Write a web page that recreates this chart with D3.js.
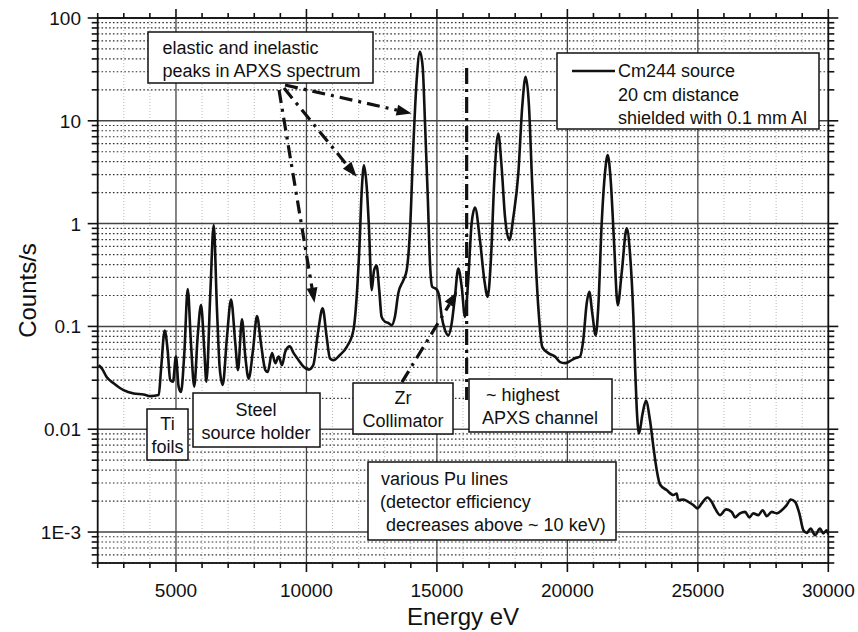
<!DOCTYPE html>
<html>
<head>
<meta charset="utf-8">
<script src="https://cdn.jsdelivr.net/npm/d3@7"></script>
<style>
  html, body { margin: 0; padding: 0; background: #fff; }
  svg { display: block; font-family: "Liberation Sans", Arial, sans-serif; }
</style>
</head>
<body>
<svg id="chart" width="858" height="632"></svg>
<script>
// ---------------- DATA ----------------
const energy = [2040,2160,2350,2610,2990,3380,3760,4020,4340,4425,4570,4680,4780,4885,5000,5100,5190,5320,5450,5575,5700,5830,5960,6085,6165,6316,6445,6572,6674,6790,6955,7110,7275,7375,7530,7657,7785,7952,8105,8258,8425,8515,8680,8810,8935,9065,9190,9360,9510,9700,9890,10090,10260,10455,10620,10775,10900,11030,11290,11540,11800,11925,12030,12120,12205,12310,12400,12500,12590,12690,12790,12880,13010,13140,13270,13390,13520,13710,13840,13970,14095,14225,14350,14455,14545,14650,14735,14820,14990,15090,15185,15310,15440,15565,15690,15820,15950,16075,16200,16330,16460,16650,16820,16945,17075,17200,17350,17480,17610,17775,17930,18120,18270,18400,18530,18635,18760,18885,19040,19270,19525,19720,19910,20100,20290,20485,20610,20740,20840,20955,21085,21185,21315,21440,21545,21660,21785,21930,22080,22275,22400,22527,22590,22655,22745,22885,23010,23165,23295,23425,23550,23805,24060,24190,24250,24445,24635,24825,24980,25150,25365,25530,25660,25850,26080,26300,26425,26615,26810,26975,27125,27320,27485,27640,27830,28025,28215,28405,28560,28725,28890,29045,29175,29325,29490,29680,29810,29940,30000];
const counts = [0.042,0.039,0.032,0.028,0.024,0.0223,0.0218,0.021,0.0215,0.0376,0.091,0.059,0.030,0.029,0.051,0.026,0.023,0.055,0.231,0.068,0.026,0.079,0.161,0.059,0.029,0.21,0.966,0.144,0.040,0.027,0.079,0.183,0.068,0.0376,0.117,0.051,0.031,0.059,0.126,0.068,0.0376,0.036,0.055,0.044,0.051,0.042,0.057,0.064,0.055,0.047,0.0405,0.038,0.042,0.092,0.150,0.079,0.049,0.047,0.053,0.063,0.092,0.194,0.59,2.12,3.7,2.28,0.87,0.225,0.35,0.39,0.225,0.124,0.111,0.108,0.103,0.124,0.21,0.28,0.35,0.87,5.6,25,47,33.5,9.4,1.82,0.41,0.243,0.229,0.194,0.124,0.092,0.082,0.107,0.194,0.366,0.243,0.124,0.282,1.0,1.43,0.69,0.28,0.194,0.475,2.65,7.5,3.57,1.16,0.69,1.16,3.08,13.7,26.8,13.7,3.08,0.59,0.155,0.063,0.055,0.051,0.045,0.044,0.046,0.049,0.051,0.074,0.167,0.217,0.134,0.082,0.155,1.0,3.08,4.64,2.65,0.69,0.161,0.328,0.90,0.513,0.13,0.044,0.0165,0.0091,0.0143,0.0189,0.0123,0.0068,0.0040,0.0029,0.00256,0.00229,0.00237,0.00204,0.00207,0.00197,0.00183,0.0017,0.0019,0.00217,0.00197,0.0017,0.00146,0.00166,0.00157,0.00139,0.00152,0.00157,0.00139,0.00152,0.00146,0.00163,0.00143,0.00157,0.00152,0.00163,0.00183,0.00207,0.00197,0.00152,0.00104,0.00098,0.00108,0.00093,0.00108,0.00097,0.00104,0.00095];

const xTickValues = [5000, 10000, 15000, 20000, 25000, 30000];
const yTickValues = [0.001, 0.01, 0.1, 1, 10, 100];
const yTickLabels = ["1E-3", "0.01", "0.1", "1", "10", "100"];
const xTitle = "Energy eV";
const yTitle = "Counts/s";
const legendLines = ["Cm244 source", "20 cm distance", "shielded with 0.1 mm Al"];

// arrows: [fromEnergy, fromCounts, toEnergy, toCounts]
const arrowFrom = [[9180, 22.3], [9140, 20.8], [8950, 19.9], [13660, 0.0287]];
const arrowTo   = [[14030, 11.8], [11925, 2.85], [10308, 0.170], [15780, 0.218]];
const channelLine = [16140, 32.6, 0.0192];

// ---------------- LAYOUT ----------------
const svg = d3.select("#chart");
const L = 97.7, R = 828.3, T = 18, B = 563;
const x = d3.scaleLinear().domain([2000, 30000]).range([L, R]);
const y = d3.scaleLog().domain([5e-4, 100]).range([B, T]);

svg.append("rect").attr("width", 858).attr("height", 632).attr("fill", "#fff");

const defs = svg.append("defs");
defs.append("clipPath").attr("id", "clip")
  .append("rect").attr("x", L).attr("y", T).attr("width", R - L).attr("height", B - T);

// minor ticks
const xMinor = d3.range(3000, 30000, 1000).filter(v => v % 5000 !== 0);
const yMinor = [];
for (let e = -4; e <= 1; e++) for (let m = 2; m <= 9; m++) {
  const v = m * Math.pow(10, e);
  if (v >= 5e-4 && v < 100) yMinor.push(v);
}

const grid = svg.append("g");
// minor vertical dotted (light)
grid.selectAll(".mvx").data(xMinor).join("line")
  .attr("x1", d => x(d)).attr("x2", d => x(d)).attr("y1", T).attr("y2", B)
  .attr("stroke", "#b8b8b8").attr("stroke-width", 1).attr("stroke-dasharray", "1,2");
// minor horizontal dotted (dark)
grid.selectAll(".mhy").data(yMinor).join("line")
  .attr("x1", L).attr("x2", R).attr("y1", d => y(d)).attr("y2", d => y(d))
  .attr("stroke", "#333").attr("stroke-width", 1.2).attr("stroke-dasharray", "1.6,2.2");
// major vertical
grid.selectAll(".Mvx").data(xTickValues.filter(v => v < 30000)).join("line")
  .attr("x1", d => x(d)).attr("x2", d => x(d)).attr("y1", T).attr("y2", B)
  .attr("stroke", "#444").attr("stroke-width", 1.3);
// major horizontal
grid.selectAll(".Mhy").data(yTickValues).join("line")
  .attr("x1", L).attr("x2", R).attr("y1", d => y(d)).attr("y2", d => y(d))
  .attr("stroke", "#444").attr("stroke-width", 1.5);

// ---------------- ANNOTATION BOXES ----------------
const boxes = [
  { x0: 148, y0: 32, x1: 373, y1: 83, lines: [
      { t: "elastic and inelastic", x: 162.5, y: 53.5, a: "start" },
      { t: "peaks in APXS spectrum", x: 162.5, y: 77, a: "start" } ] },
  { x0: 147, y0: 409, x1: 188, y1: 460, lines: [
      { t: "Ti", x: 167.5, y: 430, a: "middle" },
      { t: "foils", x: 167.5, y: 453, a: "middle" } ] },
  { x0: 193, y0: 393, x1: 320, y1: 447, lines: [
      { t: "Steel", x: 256, y: 416, a: "middle" },
      { t: "source holder", x: 256, y: 438.5, a: "middle" } ] },
  { x0: 353, y0: 383, x1: 453, y1: 434, lines: [
      { t: "Zr", x: 403, y: 404, a: "middle" },
      { t: "Collimator", x: 403, y: 426.5, a: "middle" } ] },
  { x0: 469, y0: 379, x1: 612, y1: 432, lines: [
      { t: "~ highest", x: 486, y: 401, a: "start" },
      { t: "APXS channel", x: 482, y: 424, a: "start" } ] },
  { x0: 368, y0: 462, x1: 616, y1: 540, lines: [
      { t: "various Pu lines", x: 381, y: 485, a: "start" },
      { t: "(detector efficiency", x: 380, y: 508, a: "start" },
      { t: "decreases above ~ 10 keV)", x: 386, y: 531, a: "start" } ] },
  { x0: 557, y0: 53, x1: 819, y1: 129, lines: [
      { t: legendLines[0], x: 618, y: 77, a: "start" },
      { t: legendLines[1], x: 618, y: 100.5, a: "start" },
      { t: legendLines[2], x: 618, y: 124, a: "start" } ] }
];
const bg = svg.append("g");
boxes.forEach(b => {
  bg.append("rect").attr("x", b.x0).attr("y", b.y0)
    .attr("width", b.x1 - b.x0).attr("height", b.y1 - b.y0)
    .attr("fill", "#fff").attr("stroke", "#111").attr("stroke-width", 1.5);
  b.lines.forEach(l => {
    bg.append("text").attr("x", l.x).attr("y", l.y).attr("text-anchor", l.a)
      .attr("font-size", 18).attr("fill", "#111").text(l.t);
  });
});
// legend line sample
bg.append("line").attr("x1", 572).attr("x2", 615).attr("y1", 71).attr("y2", 71)
  .attr("stroke", "#111").attr("stroke-width", 2.5);

// ---------------- SPECTRUM ----------------
const pts = energy.map((e, i) => [e, counts[i]]);
const line = d3.line().x(d => x(d[0])).y(d => y(d[1])).curve(d3.curveMonotoneX);
svg.append("path").datum(pts).attr("clip-path", "url(#clip)")
  .attr("d", line).attr("fill", "none").attr("stroke", "#111")
  .attr("stroke-width", 2.6).attr("stroke-linejoin", "round");

// ---------------- ARROWS ----------------
const ag = svg.append("g");
arrowFrom.forEach((f, i) => {
  const t = arrowTo[i];
  const x1 = x(f[0]), y1 = y(f[1]), x2 = x(t[0]), y2 = y(t[1]);
  const ang = Math.atan2(y2 - y1, x2 - x1);
  const hl = 15, hw = 5.5;
  const bx = x2 - hl * Math.cos(ang), by = y2 - hl * Math.sin(ang);
  ag.append("line").attr("x1", x1).attr("y1", y1).attr("x2", bx).attr("y2", by)
    .attr("stroke", "#111").attr("stroke-width", 3.2)
    .attr("stroke-dasharray", "13,6,3,6");
  const px = -Math.sin(ang), py = Math.cos(ang);
  ag.append("path")
    .attr("d", `M${x2},${y2}L${bx + hw * px},${by + hw * py}L${bx - hw * px},${by - hw * py}Z`)
    .attr("fill", "#111");
});
ag.append("line")
  .attr("x1", x(channelLine[0])).attr("x2", x(channelLine[0]))
  .attr("y1", y(channelLine[1])).attr("y2", y(channelLine[2]))
  .attr("stroke", "#111").attr("stroke-width", 3.2)
  .attr("stroke-dasharray", "16,5,3,5");

// ---------------- AXES ----------------
const ax = svg.append("g").attr("stroke", "#111");
ax.append("rect").attr("x", L).attr("y", T).attr("width", R - L).attr("height", B - T)
  .attr("fill", "none").attr("stroke-width", 1.8);
const xAll = d3.range(2000, 30001, 1000);
ax.selectAll(".xtb").data(xAll).join("line")
  .attr("x1", d => x(d)).attr("x2", d => x(d))
  .attr("y1", B).attr("y2", d => B + (d % 5000 === 0 ? 9 : 5)).attr("stroke-width", 1.6);
ax.selectAll(".xtt").data(xAll).join("line")
  .attr("x1", d => x(d)).attr("x2", d => x(d))
  .attr("y1", T).attr("y2", d => T - (d % 5000 === 0 ? 9 : 5)).attr("stroke-width", 1.6);
const yAll = yTickValues.map(v => ({ v, major: true })).concat(yMinor.map(v => ({ v, major: false })));
ax.selectAll(".ytl").data(yAll).join("line")
  .attr("x1", L).attr("x2", d => L - (d.major ? 10 : 6))
  .attr("y1", d => y(d.v)).attr("y2", d => y(d.v)).attr("stroke-width", 1.6);
ax.selectAll(".ytr").data(yAll).join("line")
  .attr("x1", R).attr("x2", d => R + (d.major ? 10 : 6))
  .attr("y1", d => y(d.v)).attr("y2", d => y(d.v)).attr("stroke-width", 1.6);

const lab = svg.append("g").attr("fill", "#111");
lab.selectAll(".xl").data(xTickValues).join("text")
  .attr("x", d => x(d)).attr("y", 597).attr("text-anchor", "middle")
  .attr("font-size", 19).text(d => d);
lab.selectAll(".yl").data(yTickValues).join("text")
  .attr("x", 81).attr("y", d => y(d) + 7).attr("text-anchor", "end")
  .attr("font-size", 19).text((d, i) => yTickLabels[i]);
lab.append("text").attr("x", (L + R) / 2).attr("y", 625).attr("text-anchor", "middle")
  .attr("font-size", 24).text(xTitle);
lab.append("text").attr("transform", `translate(36,${(T + B) / 2}) rotate(-90)`)
  .attr("text-anchor", "middle").attr("font-size", 24).text(yTitle);
</script>
</body>
</html>
